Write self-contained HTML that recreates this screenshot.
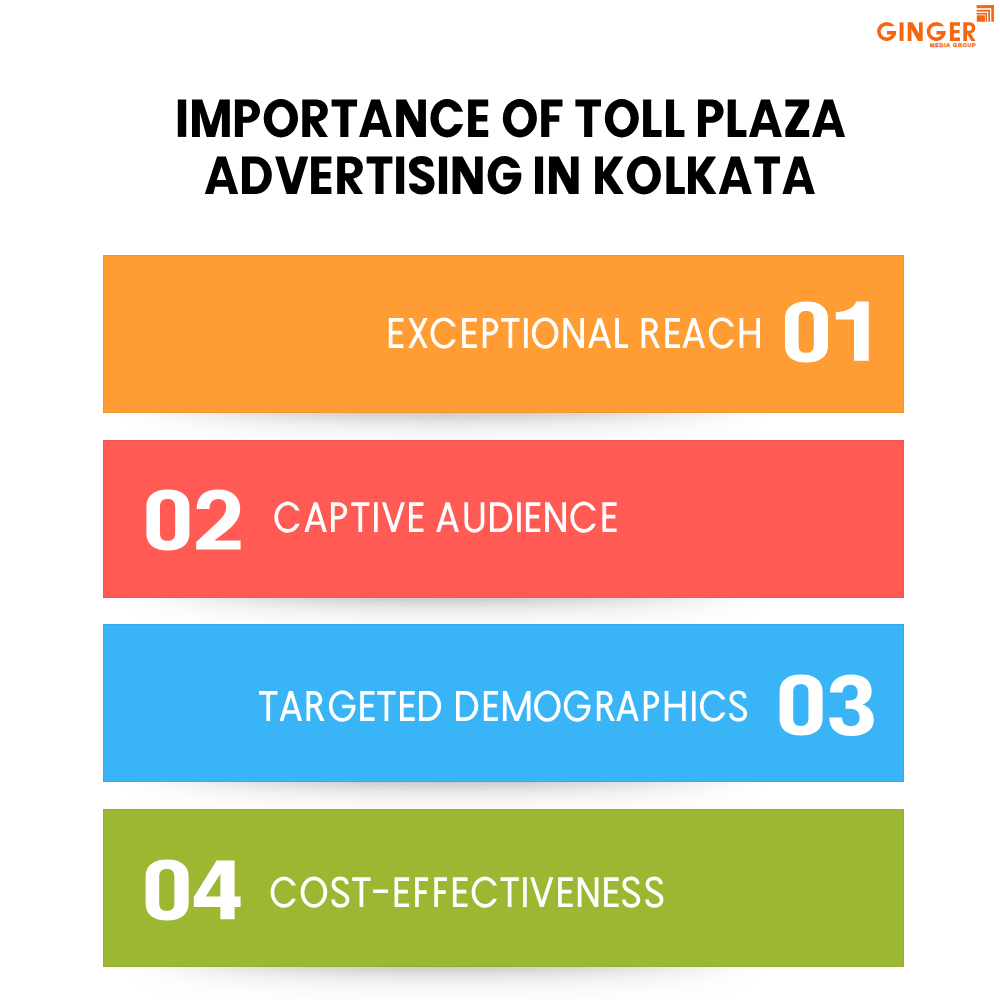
<!DOCTYPE html>
<html><head><meta charset="utf-8"><title>Importance of Toll Plaza Advertising in Kolkata</title>
<style>
html,body{margin:0;padding:0;background:#fff;}
html,body{width:1000px;height:1000px;overflow:hidden;}
#page{width:1000px;height:1000px;position:relative;overflow:hidden;background:#fff;font-family:"Liberation Sans",sans-serif;}
.t{text-rendering:geometricPrecision;position:absolute;white-space:nowrap;line-height:1;transform-origin:0 0;font-family:"Liberation Sans",sans-serif;}
.bar{position:absolute;left:103px;width:801px;height:158px;box-shadow:inset 0 0 0 1px rgba(0,0,0,.05);}
.sh{position:absolute;left:120px;width:650px;height:48px;background:linear-gradient(to bottom,rgba(0,0,0,.2) 0,rgba(0,0,0,.195) 2px,rgba(0,0,0,.137) 7px,rgba(0,0,0,.078) 13px,rgba(0,0,0,.047) 19px,rgba(0,0,0,.024) 25px,rgba(0,0,0,.012) 31px,rgba(0,0,0,.004) 38px,rgba(0,0,0,0) 44px);-webkit-mask-image:linear-gradient(to right,rgba(0,0,0,0.000) 0.00%,rgba(0,0,0,0.067) 3.75%,rgba(0,0,0,0.166) 7.50%,rgba(0,0,0,0.314) 12.50%,rgba(0,0,0,0.500) 18.75%,rgba(0,0,0,0.668) 25.00%,rgba(0,0,0,0.914) 37.50%,rgba(0,0,0,1.000) 50.00%,rgba(0,0,0,0.914) 62.50%,rgba(0,0,0,0.668) 75.00%,rgba(0,0,0,0.500) 81.25%,rgba(0,0,0,0.314) 87.50%,rgba(0,0,0,0.166) 92.50%,rgba(0,0,0,0.067) 96.25%,rgba(0,0,0,0.000) 100.00%);mask-image:linear-gradient(to right,rgba(0,0,0,0.000) 0.00%,rgba(0,0,0,0.067) 3.75%,rgba(0,0,0,0.166) 7.50%,rgba(0,0,0,0.314) 12.50%,rgba(0,0,0,0.500) 18.75%,rgba(0,0,0,0.668) 25.00%,rgba(0,0,0,0.914) 37.50%,rgba(0,0,0,1.000) 50.00%,rgba(0,0,0,0.914) 62.50%,rgba(0,0,0,0.668) 75.00%,rgba(0,0,0,0.500) 81.25%,rgba(0,0,0,0.314) 87.50%,rgba(0,0,0,0.166) 92.50%,rgba(0,0,0,0.067) 96.25%,rgba(0,0,0,0.000) 100.00%);}
svg{position:absolute;left:0;top:0;}
.k{fill:none;stroke:#fff;stroke-width:3.7px;stroke-linejoin:miter;stroke-miterlimit:10;}
</style></head><body><div id="page">
<div class="sh" style="top:412px"></div>
<div class="sh" style="top:597px"></div>
<div class="sh" style="top:781px"></div>
<div class="sh" style="top:966px"></div>
<div class="bar" style="top:255px;background:#ff9c33"></div>
<div class="bar" style="top:440px;background:#ff5b54"></div>
<div class="bar" style="top:624px;background:#38b4f7"></div>
<div class="bar" style="top:809px;background:#9cb832"></div>

<svg width="1000" height="1000" viewBox="0 0 1000 1000"><g fill="#fff" fill-rule="evenodd"><path transform="translate(785,301.4)" d="M0,17 C0,6 8,0 21.5,0 C35,0 43,6 43,17 L43,44 C43,55 35,61 21.5,61 C8,61 0,55 0,44 Z M13.6,17.5 C13.6,12 16,9.6 21.2,9.6 C26.4,9.6 28.8,12 28.8,17.5 L28.8,43.5 C28.8,49 26.4,51.4 21.2,51.4 C16,51.4 13.6,49 13.6,43.5 Z"/><path transform="translate(835.8,301.4)" d="M0,10.8 C11,10 18,6.5 20.6,0 L32.9,0 L32.9,59.4 L18.2,59.4 L18.2,18 L0,18 Z"/><path transform="translate(146.4,489.4)" d="M0,17 C0,6 8,0 21.5,0 C35,0 43,6 43,17 L43,44 C43,55 35,61 21.5,61 C8,61 0,55 0,44 Z M13.6,17.5 C13.6,12 16,9.6 21.2,9.6 C26.4,9.6 28.8,12 28.8,17.5 L28.8,43.5 C28.8,49 26.4,51.4 21.2,51.4 C16,51.4 13.6,49 13.6,43.5 Z"/><path transform="translate(196.2,489.4)" d="M0.5,19.5 C0.5,7 8,0 22,0 C36,0 44,7.5 44,19 C44,28 39,35 30,42 L18,51 L44.4,51 L44.4,60 L0,60 L0,52.5 L21,33 C27,27.5 30,23 30,17.5 C30,12.5 27,9.6 22,9.6 C16.5,9.6 13.5,13 13.3,19.5 Z"/><path transform="translate(779.6,674.6)" d="M0,17 C0,6 8,0 21.5,0 C35,0 43,6 43,17 L43,44 C43,55 35,61 21.5,61 C8,61 0,55 0,44 Z M13.6,17.5 C13.6,12 16,9.6 21.2,9.6 C26.4,9.6 28.8,12 28.8,17.5 L28.8,43.5 C28.8,49 26.4,51.4 21.2,51.4 C16,51.4 13.6,49 13.6,43.5 Z"/><path transform="translate(829.2,674.6)" d="M0.8,17.8 C0.8,6.5 9,0 22.2,0 C35,0 42.5,6.5 42.5,16.5 C42.5,23 39.5,27.5 33.5,30 C40.5,32.5 44.6,38 44.6,45.5 C44.6,55.5 36,61.5 22,61.5 C8,61.5 0,54.5 0,43 L12.8,43 C13,48.8 16,51.6 21.8,51.6 C27.5,51.6 30.4,48.5 30.4,43 C30.4,37 27,34.2 20.5,34.2 L16.4,34.2 L16.4,26 L20,26 C25.6,26 28.5,23.3 28.5,18 C28.5,13 26,10.2 21.5,10.2 C16.5,10.2 13.6,13 13.4,17.8 Z"/><path transform="translate(145.6,859.4)" d="M0,17 C0,6 8,0 21.5,0 C35,0 43,6 43,17 L43,44 C43,55 35,61 21.5,61 C8,61 0,55 0,44 Z M13.6,17.5 C13.6,12 16,9.6 21.2,9.6 C26.4,9.6 28.8,12 28.8,17.5 L28.8,43.5 C28.8,49 26.4,51.4 21.2,51.4 C16,51.4 13.6,49 13.6,43.5 Z"/><path transform="translate(193.8,860.4)" d="M22.8,0 L40.8,0 L40.8,36.2 L46.8,36.2 L46.8,46.5 L40.8,46.5 L40.8,58.8 L26.6,58.8 L26.6,46.5 L0,46.5 L0,36.5 Z M26.6,13.4 L26.6,36.2 L12,36.2 Z"/></g>
<g fill="#000" fill-rule="evenodd"><path transform="translate(177.8,99.5)" d="M0,0 L8.4,0 L8.4,37.4 L0,37.4Z"/><path transform="translate(192,99.5)" d="M0,0 L10.2,0 L18.9,26 L27.6,0 L37.8,0 L37.8,37.4 L29.9,37.4 L29.9,12.8 L23.1,37.4 L14.7,37.4 L7.9,12.8 L7.9,37.4 L0,37.4Z"/><path transform="translate(234.9,99.5)" d="M0,0H13.5A11.6,11.6 0 0 1 13.5,23.2H8V37.4H0ZM8,6.8H12A5.2,5.2 0 0 1 12,17.2H8Z"/><path transform="translate(263.7,99.5)" d="M0,18.7A17.15,19.2 0 1 0 34.3,18.7A17.15,19.2 0 1 0 0,18.7ZM8.2,18.7A8.95,11.4 0 1 0 26.1,18.7A8.95,11.4 0 1 0 8.2,18.7Z"/><path transform="translate(302.3,99.5)" d="M0,0H14.5A11.2,11.2 0 0 1 15.9,22.3L25.7,37.4H17L7.9,23.2V37.4H0ZM7.9,6.4H12.6A5.2,5.2 0 0 1 12.6,16.8H7.9Z"/><path transform="translate(331.6,99.5)" d="M0,0 L25.5,0 L25.5,6.9 L16.8,6.9 L16.8,37.4 L8.7,37.4 L8.7,6.9 L0,6.9Z"/><path transform="translate(359.1,99.5)" d="M12.05,0 L20.85,0 L32.9,37.4 L24.4,37.4 L22.6,30.2 L10.3,30.2 L8.5,37.4 L0,37.4ZM16.45,10 L21.15,23.6 L11.75,23.6Z"/><path transform="translate(396.2,99.5)" d="M0,0 L10,0 L22,22.4 L22,0 L29.7,0 L29.7,37.4 L20,37.4 L7.8,14.4 L7.8,37.4 L0,37.4Z"/><path transform="translate(430.4,99.5)" d="M0,18.7A16.75,19.2 0 1 0 33.5,18.7A16.75,19.2 0 1 0 0,18.7ZM8.2,18.7A8.55,11.4 0 1 0 25.3,18.7A8.55,11.4 0 1 0 8.2,18.7Z"/><path transform="translate(430.4,99.5)" fill="#fff" d="M16.75,12.2 L34.3,12.2 L34.3,24.6 L16.75,24.6Z"/><path transform="translate(468.1,99.5)" d="M0,0 L20.1,0 L20.1,6.9 L8.1,6.9 L8.1,15.6 L19.2,15.6 L19.2,21.9 L8.1,21.9 L8.1,30.5 L20.1,30.5 L20.1,37.4 L0,37.4Z"/><path transform="translate(502.8,99.5)" d="M0,18.7A17.05,19.2 0 1 0 34.1,18.7A17.05,19.2 0 1 0 0,18.7ZM8.2,18.7A8.85,11.4 0 1 0 25.9,18.7A8.85,11.4 0 1 0 8.2,18.7Z"/><path transform="translate(541.2,99.5)" d="M0,0 L21.3,0 L21.3,6.9 L8.1,6.9 L8.1,15.8 L18.1,15.8 L18.1,22.3 L8.1,22.3 L8.1,37.4 L0,37.4Z"/><path transform="translate(575.4,99.5)" d="M0,0 L25.6,0 L25.6,6.9 L16.85,6.9 L16.85,37.4 L8.75,37.4 L8.75,6.9 L0,6.9Z"/><path transform="translate(604.8,99.5)" d="M0,18.7A17,19.2 0 1 0 34,18.7A17,19.2 0 1 0 0,18.7ZM8.2,18.7A8.8,11.4 0 1 0 25.8,18.7A8.8,11.4 0 1 0 8.2,18.7Z"/><path transform="translate(643.1,99.5)" d="M0,0 L8.1,0 L8.1,30.5 L18.5,30.5 L18.5,37.4 L0,37.4Z"/><path transform="translate(666,99.5)" d="M0,0 L8.1,0 L8.1,30.5 L18.4,30.5 L18.4,37.4 L0,37.4Z"/><path transform="translate(698,99.5)" d="M0,0H14A11.6,11.6 0 0 1 14,23.2H8V37.4H0ZM8,6.8H12A5.2,5.2 0 0 1 12,17.2H8Z"/><path transform="translate(727.7,99.5)" d="M0,0 L8.1,0 L8.1,30.5 L18.7,30.5 L18.7,37.4 L0,37.4Z"/><path transform="translate(748.9,99.5)" d="M12.15,0 L20.95,0 L33.1,37.4 L24.6,37.4 L22.8,30.2 L10.3,30.2 L8.5,37.4 L0,37.4ZM16.55,10 L21.25,23.6 L11.85,23.6Z"/><path transform="translate(785.4,99.5)" d="M0,0 L23.8,0 L23.8,7 L10.2,30.5 L23.8,30.5 L23.8,37.4 L0,37.4 L0,30.3 L13.4,6.9 L0,6.9Z"/><path transform="translate(812,99.5)" d="M12.15,0 L20.95,0 L33.1,37.4 L24.6,37.4 L22.8,30.2 L10.3,30.2 L8.5,37.4 L0,37.4ZM16.55,10 L21.25,23.6 L11.85,23.6Z"/><path transform="translate(204.8,156.5)" d="M12.3,0 L21.1,0 L33.4,37.4 L24.9,37.4 L23.1,30.2 L10.3,30.2 L8.5,37.4 L0,37.4ZM16.7,10 L21.4,23.6 L12,23.6Z"/><path transform="translate(242,156.5)" d="M0,0H14A15.8,18.7 0 0 1 14,37.4H0ZM8,7H13.2A8.8,11.55 0 0 1 13.2,30.1H8Z"/><path transform="translate(275.2,156.5)" d="M0,0 L8.5,0 L16.5,27 L24.5,0 L33,0 L21.6,37.4 L11.4,37.4Z"/><path transform="translate(311.1,156.5)" d="M0,0 L20.3,0 L20.3,6.9 L8.1,6.9 L8.1,15.6 L19.4,15.6 L19.4,21.9 L8.1,21.9 L8.1,30.5 L20.3,30.5 L20.3,37.4 L0,37.4Z"/><path transform="translate(337.2,156.5)" d="M0,0H14.6A11.2,11.2 0 0 1 16,22.3L25.8,37.4H17.1L7.9,23.2V37.4H0ZM7.9,6.4H12.6A5.2,5.2 0 0 1 12.6,16.8H7.9Z"/><path transform="translate(366.6,156.5)" d="M0,0 L25.8,0 L25.8,6.9 L16.95,6.9 L16.95,37.4 L8.85,37.4 L8.85,6.9 L0,6.9Z"/><path transform="translate(396.1,156.5)" d="M0,0 L8.1,0 L8.1,37.4 L0,37.4Z"/><path transform="translate(408.9,156.5)" fill="none" stroke="#000" stroke-width="8.2" d="M20.46,10.1C20.46,5.4 17.54,3.5 12.7,3.5C7.86,3.5 4.13,5.8 4.13,9.8C4.13,13.8 7.06,15.8 12.9,18.6C18.34,21 21.57,23 21.57,27C21.57,31.4 17.94,34 12.9,34C7.86,34 4.23,31.4 4.23,26.9"/><path transform="translate(438.9,156.5)" d="M0,0 L8.2,0 L8.2,37.4 L0,37.4Z"/><path transform="translate(452.6,156.5)" d="M0,0 L10,0 L22.4,22.4 L22.4,0 L30.1,0 L30.1,37.4 L20.4,37.4 L7.8,14.4 L7.8,37.4 L0,37.4Z"/><path transform="translate(487.6,156.5)" d="M0,18.7A16.9,19.2 0 1 0 33.8,18.7A16.9,19.2 0 1 0 0,18.7ZM8.2,18.7A8.7,11.4 0 1 0 25.6,18.7A8.7,11.4 0 1 0 8.2,18.7Z"/><path transform="translate(487.6,156.5)" fill="#fff" d="M16.9,11.4 L34.6,11.4 L34.6,16.2 L16.9,16.2Z"/><path transform="translate(487.6,156.5)" d="M15.6,16.2 L32.8,16.2 L32.8,23 L15.6,23Z"/><path transform="translate(535,156.5)" d="M0,0 L8.1,0 L8.1,37.4 L0,37.4Z"/><path transform="translate(549,156.5)" d="M0,0 L10,0 L21.9,22.4 L21.9,0 L29.6,0 L29.6,37.4 L19.9,37.4 L7.8,14.4 L7.8,37.4 L0,37.4Z"/><path transform="translate(595.1,156.5)" d="M0,0 L7.9,0 L7.9,15.8 L18.9,0 L28.2,0 L16.2,18.6 L28.7,37.4 L18.9,37.4 L7.9,21.8 L7.9,37.4 L0,37.4Z"/><path transform="translate(626.8,156.5)" d="M0,18.7A17.05,19.2 0 1 0 34.1,18.7A17.05,19.2 0 1 0 0,18.7ZM8.2,18.7A8.85,11.4 0 1 0 25.9,18.7A8.85,11.4 0 1 0 8.2,18.7Z"/><path transform="translate(666.4,156.5)" d="M0,0 L8.1,0 L8.1,30.5 L18.4,30.5 L18.4,37.4 L0,37.4Z"/><path transform="translate(688,156.5)" d="M0,0 L7.9,0 L7.9,15.8 L18.9,0 L28.2,0 L16.2,18.6 L28.5,37.4 L18.9,37.4 L7.9,21.8 L7.9,37.4 L0,37.4Z"/><path transform="translate(718.8,156.5)" d="M12.1,0 L20.9,0 L33,37.4 L24.5,37.4 L22.7,30.2 L10.3,30.2 L8.5,37.4 L0,37.4ZM16.5,10 L21.2,23.6 L11.8,23.6Z"/><path transform="translate(754.4,156.5)" d="M0,0 L25.6,0 L25.6,6.9 L16.85,6.9 L16.85,37.4 L8.75,37.4 L8.75,6.9 L0,6.9Z"/><path transform="translate(782.4,156.5)" d="M11.85,0 L20.65,0 L32.5,37.4 L24,37.4 L22.2,30.2 L10.3,30.2 L8.5,37.4 L0,37.4ZM16.25,10 L20.95,23.6 L11.55,23.6Z"/></g><g fill="#fff"><path transform="translate(388.8,318.1)" class="k" d="M14.6,1.85H1.85V28.05H14.6M1.85,14.5H13.4"/><path transform="translate(408.4,318.1)" d="M0,0 L4.05,0 L19.4,29.9 L15.35,29.9ZM15.35,0 L19.4,0 L4.05,29.9 L0,29.9Z"/><path transform="translate(430.5,318.1)" d="M25.34,8.3A13.3,15.65 0 1 0 25.38,21.5L21.33,21.5A9.6,11.95 0 1 1 21.28,8.3Z"/><path transform="translate(462.1,318.1)" class="k" d="M14.7,1.85H1.85V28.05H14.7M1.85,14.5H13.5"/><path transform="translate(482.8,318.1)" class="k" d="M1.85,29.9V1.85H6.9A6.85,6.85 0 0 1 6.9,15.55H1.85"/><path transform="translate(501.2,318.1)" class="k" d="M0,1.85H18.4M9.2,1.85V29.9"/><path transform="translate(524,318.1)" d="M0,0 L3.7,0 L3.7,29.9 L0,29.9Z"/><path transform="translate(531.8,318.1)" class="k" d="M1.85,14.95A11.45,13.8 0 1 0 24.75,14.95A11.45,13.8 0 1 0 1.85,14.95Z"/><path transform="translate(563.4,318.1)" d="M0,0 L3.7,0 L3.7,29.9 L0,29.9ZM16.9,0 L20.6,0 L20.6,29.9 L16.9,29.9ZM0,0 L4.12,0 L20.6,29.9 L16.48,29.9Z"/><path transform="translate(588,318.1)" d="M9.72,0 L13.58,0 L3.85,29.9 L0,29.9ZM9.72,0 L13.58,0 L23.3,29.9 L19.45,29.9ZM5.41,19.2 L17.89,19.2 L19,22.6 L4.3,22.6Z"/><path transform="translate(615.2,318.1)" class="k" d="M1.85,0V28.05H12.8"/><path transform="translate(641.6,318.1)" class="k" d="M1.85,29.9V1.85H7.85A6.5,6.5 0 0 1 7.85,14.85H1.85"/><path transform="translate(641.6,318.1)" d="M7.03,14.85 L11.23,14.85 L18.5,29.9 L14.3,29.9Z"/><path transform="translate(665.4,318.1)" class="k" d="M14.6,1.85H1.85V28.05H14.6M1.85,14.5H13.4"/><path transform="translate(682.4,318.1)" d="M9.38,0 L13.22,0 L3.84,29.9 L0,29.9ZM9.38,0 L13.22,0 L22.6,29.9 L18.76,29.9ZM5.28,19.2 L17.32,19.2 L18.39,22.6 L4.21,22.6Z"/><path transform="translate(708.8,318.1)" d="M25.24,8.3A13.25,15.65 0 1 0 25.28,21.5L21.23,21.5A9.55,11.95 0 1 1 21.18,8.3Z"/><path transform="translate(739.6,318.1)" class="k" d="M1.85,0V29.9M18.55,0V29.9M1.85,14.5H18.55"/><path transform="translate(274.4,502.2)" d="M25.24,8.3A13.25,15.65 0 1 0 25.28,21.5L21.23,21.5A9.55,11.95 0 1 1 21.18,8.3Z"/><path transform="translate(304.4,502.2)" d="M9.33,0 L13.17,0 L3.83,29.9 L0,29.9ZM9.33,0 L13.17,0 L22.5,29.9 L18.67,29.9ZM5.26,19.2 L17.24,19.2 L18.3,22.6 L4.2,22.6Z"/><path transform="translate(331,502.2)" class="k" d="M1.85,29.9V1.85H7.5A6.85,6.85 0 0 1 7.5,15.55H1.85"/><path transform="translate(351.2,502.2)" class="k" d="M0,1.85H18.2M9.1,1.85V29.9"/><path transform="translate(374,502.2)" d="M0,0 L3.7,0 L3.7,29.9 L0,29.9Z"/><path transform="translate(381.9,502.2)" d="M0,0 L3.85,0 L13.47,29.9 L9.63,29.9ZM19.25,0 L23.1,0 L13.47,29.9 L9.63,29.9Z"/><path transform="translate(409,502.2)" class="k" d="M14.5,1.85H1.85V28.05H14.5M1.85,14.5H13.3"/><path transform="translate(436.2,502.2)" d="M9.48,0 L13.32,0 L3.84,29.9 L0,29.9ZM9.48,0 L13.32,0 L22.8,29.9 L18.96,29.9ZM5.31,19.2 L17.49,19.2 L18.57,22.6 L4.23,22.6Z"/><path transform="translate(464.4,502.2)" class="k" d="M1.85,0V20.6A8.15,8.15 0 0 0 18.15,20.6V0"/><path transform="translate(490,502.2)" class="k" d="M1.85,1.85H8.92A11.53,13.1 0 0 1 8.92,28.05H1.85Z"/><path transform="translate(517.2,502.2)" d="M0,0 L3.6,0 L3.6,29.9 L0,29.9Z"/><path transform="translate(525.9,502.2)" class="k" d="M14.4,1.85H1.85V28.05H14.4M1.85,14.5H13.2"/><path transform="translate(545.2,502.2)" d="M0,0 L3.7,0 L3.7,29.9 L0,29.9ZM17.1,0 L20.8,0 L20.8,29.9 L17.1,29.9ZM0,0 L4.13,0 L20.8,29.9 L16.67,29.9Z"/><path transform="translate(570.4,502.2)" d="M25.54,8.3A13.4,15.65 0 1 0 25.58,21.5L21.52,21.5A9.7,11.95 0 1 1 21.47,8.3Z"/><path transform="translate(602.4,502.2)" class="k" d="M14.2,1.85H1.85V28.05H14.2M1.85,14.5H13"/><path transform="translate(259,691.1)" class="k" d="M0,1.85H18.5M9.25,1.85V29.9"/><path transform="translate(279.6,691.1)" d="M9.33,0 L13.17,0 L3.83,29.9 L0,29.9ZM9.33,0 L13.17,0 L22.5,29.9 L18.67,29.9ZM5.26,19.2 L17.24,19.2 L18.3,22.6 L4.2,22.6Z"/><path transform="translate(306.5,691.1)" class="k" d="M1.85,29.9V1.85H7.45A6.5,6.5 0 0 1 7.45,14.85H1.85"/><path transform="translate(306.5,691.1)" d="M6.88,14.85 L11.08,14.85 L18.1,29.9 L13.9,29.9Z"/><path transform="translate(328.8,691.1)" d="M25.43,8.3A13.35,15.65 0 1 0 26.66,13.7H13.35V17.2H22.83A9.65,11.95 0 1 1 21.37,8.3Z"/><path transform="translate(360.2,691.1)" class="k" d="M14.4,1.85H1.85V28.05H14.4M1.85,14.5H13.2"/><path transform="translate(377.2,691.1)" class="k" d="M0,1.85H18.4M9.2,1.85V29.9"/><path transform="translate(400,691.1)" class="k" d="M14.8,1.85H1.85V28.05H14.8M1.85,14.5H13.6"/><path transform="translate(419,691.1)" class="k" d="M1.85,1.85H8.88A11.47,13.1 0 0 1 8.88,28.05H1.85Z"/><path transform="translate(456,691.1)" class="k" d="M1.85,1.85H8.88A11.47,13.1 0 0 1 8.88,28.05H1.85Z"/><path transform="translate(483.8,691.1)" class="k" d="M14.2,1.85H1.85V28.05H14.2M1.85,14.5H13"/><path transform="translate(502.9,691.1)" d="M0,0 L3.7,0 L3.7,29.9 L0,29.9ZM23.9,0 L27.6,0 L27.6,29.9 L23.9,29.9ZM0,0 L3.87,0 L15.73,29.9 L11.87,29.9ZM23.73,0 L27.6,0 L15.73,29.9 L11.87,29.9Z"/><path transform="translate(534,691.1)" class="k" d="M1.85,14.95A11.45,13.8 0 1 0 24.75,14.95A11.45,13.8 0 1 0 1.85,14.95Z"/><path transform="translate(563.7,691.1)" d="M25.63,8.3A13.45,15.65 0 1 0 26.86,13.7H13.45V17.2H23.03A9.75,11.95 0 1 1 21.55,8.3Z"/><path transform="translate(596.8,691.1)" class="k" d="M1.85,29.9V1.85H7.55A6.5,6.5 0 0 1 7.55,14.85H1.85"/><path transform="translate(596.8,691.1)" d="M6.92,14.85 L11.12,14.85 L18.2,29.9 L14,29.9Z"/><path transform="translate(616.2,691.1)" d="M9.38,0 L13.22,0 L3.84,29.9 L0,29.9ZM9.38,0 L13.22,0 L22.6,29.9 L18.76,29.9ZM5.28,19.2 L17.32,19.2 L18.39,22.6 L4.21,22.6Z"/><path transform="translate(643.8,691.1)" class="k" d="M1.85,29.9V1.85H6.7A6.85,6.85 0 0 1 6.7,15.55H1.85"/><path transform="translate(664.7,691.1)" class="k" d="M1.85,0V29.9M19.15,0V29.9M1.85,14.5H19.15"/><path transform="translate(692,691.1)" d="M0,0 L3.6,0 L3.6,29.9 L0,29.9Z"/><path transform="translate(699.9,691.1)" d="M25.54,8.3A13.4,15.65 0 1 0 25.58,21.5L21.52,21.5A9.7,11.95 0 1 1 21.47,8.3Z"/><path transform="translate(729.1,691.1)" class="k" d="M15.53,7.08C15.53,3.08 13.08,1.15 9.05,1.15C4.87,1.15 2.14,3.36 2.14,7.08C2.14,10.81 4.3,12.47 9.05,14.81C13.66,17.02 16.25,18.81 16.25,22.54C16.25,26.54 13.23,28.75 9.05,28.75C4.87,28.75 1.85,26.4 1.85,22.26"/><path transform="translate(270.6,877.2)" d="M25.24,8.3A13.25,15.65 0 1 0 25.28,21.5L21.23,21.5A9.55,11.95 0 1 1 21.18,8.3Z"/><path transform="translate(300.6,877.2)" class="k" d="M1.85,14.95A11.45,13.8 0 1 0 24.75,14.95A11.45,13.8 0 1 0 1.85,14.95Z"/><path transform="translate(331.2,877.2)" class="k" d="M15.62,7.08C15.62,3.08 13.16,1.15 9.1,1.15C4.89,1.15 2.14,3.36 2.14,7.08C2.14,10.81 4.31,12.47 9.1,14.81C13.74,17.02 16.35,18.81 16.35,22.54C16.35,26.54 13.3,28.75 9.1,28.75C4.89,28.75 1.85,26.4 1.85,22.26"/><path transform="translate(352.2,877.2)" class="k" d="M0,1.85H18.4M9.2,1.85V29.9"/><path transform="translate(373.1,877.2)" d="M0,12.3 L15,12.3 L15,15.8 L0,15.8Z"/><path transform="translate(394.5,877.2)" class="k" d="M14.6,1.85H1.85V28.05H14.6M1.85,14.5H13.4"/><path transform="translate(415.1,877.2)" class="k" d="M12.9,1.85H1.85V29.9M1.85,14.95H11.6"/><path transform="translate(434.3,877.2)" class="k" d="M12.7,1.85H1.85V29.9M1.85,14.95H11.4"/><path transform="translate(452.9,877.2)" class="k" d="M14.7,1.85H1.85V28.05H14.7M1.85,14.5H13.5"/><path transform="translate(471.6,877.2)" d="M25.34,8.3A13.3,15.65 0 1 0 25.38,21.5L21.33,21.5A9.6,11.95 0 1 1 21.28,8.3Z"/><path transform="translate(500.5,877.2)" class="k" d="M0,1.85H18.3M9.15,1.85V29.9"/><path transform="translate(523.1,877.2)" d="M0,0 L3.7,0 L3.7,29.9 L0,29.9Z"/><path transform="translate(530.2,877.2)" d="M0,0 L3.85,0 L13.52,29.9 L9.68,29.9ZM19.35,0 L23.2,0 L13.52,29.9 L9.68,29.9Z"/><path transform="translate(558.1,877.2)" class="k" d="M14.6,1.85H1.85V28.05H14.6M1.85,14.5H13.4"/><path transform="translate(577.8,877.2)" d="M0,0 L3.7,0 L3.7,29.9 L0,29.9ZM16.9,0 L20.6,0 L20.6,29.9 L16.9,29.9ZM0,0 L4.12,0 L20.6,29.9 L16.48,29.9Z"/><path transform="translate(604.1,877.2)" class="k" d="M14.5,1.85H1.85V28.05H14.5M1.85,14.5H13.3"/><path transform="translate(622,877.2)" class="k" d="M15.72,7.08C15.72,3.08 13.24,1.15 9.15,1.15C4.92,1.15 2.14,3.36 2.14,7.08C2.14,10.81 4.33,12.47 9.15,14.81C13.82,17.02 16.45,18.81 16.45,22.54C16.45,26.54 13.38,28.75 9.15,28.75C4.92,28.75 1.85,26.4 1.85,22.26"/><path transform="translate(645.2,877.2)" class="k" d="M15.72,7.08C15.72,3.08 13.24,1.15 9.15,1.15C4.92,1.15 2.14,3.36 2.14,7.08C2.14,10.81 4.33,12.47 9.15,14.81C13.82,17.02 16.45,18.81 16.45,22.54C16.45,26.54 13.38,28.75 9.15,28.75C4.92,28.75 1.85,26.4 1.85,22.26"/></g><g fill="#f4670f">
<rect x="976.6" y="5.1" width="17.3" height="3.1"/><rect x="991.3" y="5.1" width="2.6" height="16.7"/>
<rect x="976.6" y="9.8" width="13.4" height="1.8"/><rect x="988.3" y="9.8" width="1.7" height="12"/>
<rect x="976.6" y="12.9" width="10.5" height="1.6"/><rect x="985.6" y="12.9" width="1.5" height="8.9"/>
<rect x="976.8" y="15.3" width="8.1" height="6.5"/>
</g><g fill="#f4670f" fill-rule="evenodd"><path transform="translate(877.1,22.3) scale(0.4815,0.4973)" d="M0,18.7A19.94,19.2 0 1 0 39.88,18.7A19.94,19.2 0 1 0 0,18.7ZM7.4,18.7A12.54,12 0 1 0 32.48,18.7A12.54,12 0 1 0 7.4,18.7Z"/><path transform="translate(877.1,22.3) scale(0.4815,0.4973)" fill="#fff" d="M21.94,7.8 L40.68,7.8 L40.68,17.5 L21.94,17.5Z"/><path transform="translate(877.1,22.3) scale(0.4815,0.4973)" d="M20.44,17.5 L38.88,17.5 L38.88,24.7 L20.44,24.7Z"/><path transform="translate(899.6,22.3) scale(0.4815,0.4973)" d="M0,0 L8.1,0 L8.1,37.4 L0,37.4Z"/><path transform="translate(907.7,22.3) scale(0.4815,0.4973)" d="M0,0 L10,0 L23.45,22.4 L23.45,0 L31.15,0 L31.15,37.4 L21.45,37.4 L7.8,14.4 L7.8,37.4 L0,37.4Z"/><path transform="translate(926.7,22.3) scale(0.4815,0.4973)" d="M0,18.7A19.83,19.2 0 1 0 39.67,18.7A19.83,19.2 0 1 0 0,18.7ZM7.4,18.7A12.43,12 0 1 0 32.27,18.7A12.43,12 0 1 0 7.4,18.7Z"/><path transform="translate(926.7,22.3) scale(0.4815,0.4973)" fill="#fff" d="M21.83,7.8 L40.47,7.8 L40.47,17.5 L21.83,17.5Z"/><path transform="translate(926.7,22.3) scale(0.4815,0.4973)" d="M20.33,17.5 L38.67,17.5 L38.67,24.7 L20.33,24.7Z"/><path transform="translate(949.9,22.3) scale(0.4815,0.4973)" d="M0,0 L20.98,0 L20.98,6.9 L8.1,6.9 L8.1,15.6 L20.08,15.6 L20.08,21.9 L8.1,21.9 L8.1,30.5 L20.98,30.5 L20.98,37.4 L0,37.4Z"/><path transform="translate(963.3,22.3) scale(0.4815,0.4973)" d="M0,0H13.93A11.2,11.2 0 0 1 15.33,22.3L25.13,37.4H16.43L7.9,23.2V37.4H0ZM7.9,6.4H12.6A5.2,5.2 0 0 1 12.6,16.8H7.9Z"/></g></svg>
<div class="t" style="left:174.74px;top:93.00px;font-size:52.03px;font-weight:700;color:transparent;transform:scaleX(0.8740);">IMPORTANCE OF TOLL PLAZA</div>
<div class="t" style="left:203.46px;top:150.00px;font-size:52.03px;font-weight:700;color:transparent;transform:scaleX(0.8975);">ADVERTISING IN KOLKATA</div>
<div class="t" style="left:385.89px;top:311.00px;font-size:43.41px;font-weight:400;color:transparent;transform:scaleX(0.8087);">EXCEPTIONAL REACH</div>
<div class="t" style="left:781.80px;top:291.00px;font-size:84.00px;font-weight:700;color:transparent;transform:scaleX(0.9536);">01</div>
<div class="t" style="left:142.75px;top:479.00px;font-size:84.00px;font-weight:700;color:transparent;transform:scaleX(1.0858);">02</div>
<div class="t" style="left:272.79px;top:495.00px;font-size:43.41px;font-weight:400;color:transparent;transform:scaleX(0.8232);">CAPTIVE AUDIENCE</div>
<div class="t" style="left:258.28px;top:684.00px;font-size:43.41px;font-weight:400;color:transparent;transform:scaleX(0.8147);">TARGETED DEMOGRAPHICS</div>
<div class="t" style="left:775.97px;top:665.00px;font-size:84.00px;font-weight:700;color:transparent;transform:scaleX(1.0801);">03</div>
<div class="t" style="left:142.04px;top:849.00px;font-size:84.00px;font-weight:700;color:transparent;transform:scaleX(1.0598);">04</div>
<div class="t" style="left:269.01px;top:870.00px;font-size:43.41px;font-weight:400;color:transparent;transform:scaleX(0.8092);">COST-EFFECTIVENESS</div>
<div class="t" style="left:876.23px;top:18.00px;font-size:27.00px;font-weight:700;color:transparent;transform:scaleX(0.9354);">GINGER</div>
<div class="t" id="lg2" style="left:930px;top:43.5px;font-size:5.4px;font-weight:700;color:#f4670f;letter-spacing:0.72px;-webkit-text-stroke:0.3px #f4670f">MEDIA GROUP</div>
</div></body></html>
